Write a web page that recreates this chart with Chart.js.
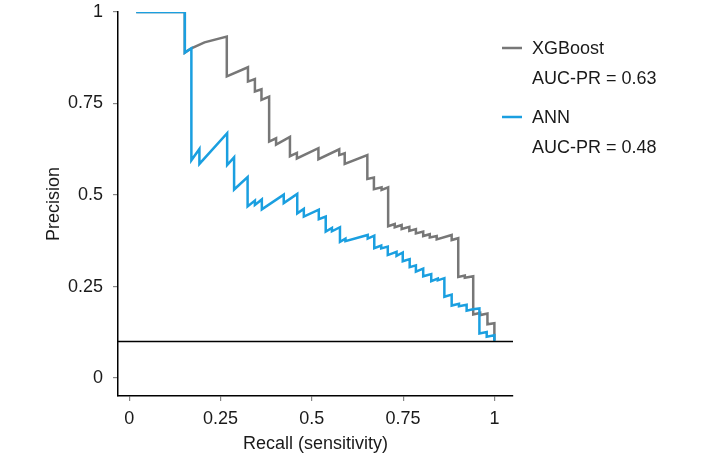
<!DOCTYPE html>
<html>
<head>
<meta charset="utf-8">
<script src="https://cdn.jsdelivr.net/npm/chart.js@4.4.1/dist/chart.umd.min.js"></script>
<style>
  body { margin: 0; background: #fff; }
  #wrap { width: 703px; height: 456px; }
</style>
</head>
<body>
<div id="wrap"><canvas id="prChart" width="703" height="456"></canvas></div>
<script>
// precision-recall curves, values
const xgbRecall = [0.019, 0.152, 0.152, 0.170, 0.206, 0.267, 0.267, 0.325, 0.325, 0.344, 0.344, 0.362, 0.362, 0.383, 0.383, 0.402,
  0.402, 0.440, 0.440, 0.459, 0.459, 0.518, 0.518, 0.575, 0.575, 0.590, 0.590, 0.652, 0.652, 0.670, 0.670, 0.691, 0.691, 0.709,
  0.709, 0.727, 0.727, 0.746, 0.746, 0.767, 0.767, 0.785, 0.785, 0.805, 0.805, 0.823, 0.823, 0.842, 0.842, 0.883, 0.883, 0.901,
  0.901, 0.919, 0.919, 0.942, 0.942, 0.961, 0.961, 0.981, 0.981, 1.0, 1.0];
const xgbPrecision = [1, 1, 0.889, 0.901, 0.917, 0.933, 0.824, 0.849, 0.810, 0.817, 0.783, 0.789, 0.760, 0.769, 0.646, 0.655,
  0.638, 0.659, 0.606, 0.615, 0.600, 0.628, 0.598, 0.625, 0.609, 0.614, 0.585, 0.609, 0.544, 0.548, 0.516, 0.521, 0.514, 0.521,
  0.415, 0.421, 0.412, 0.418, 0.407, 0.413, 0.402, 0.407, 0.395, 0.400, 0.388, 0.393, 0.384, 0.388, 0.379, 0.391, 0.377, 0.382,
  0.276, 0.280, 0.274, 0.278, 0.174, 0.178, 0.172, 0.176, 0.147, 0.150, 0.103];

const annRecall = [0.019, 0.152, 0.152, 0.170, 0.170, 0.192, 0.192, 0.268, 0.268, 0.287, 0.287, 0.324, 0.324, 0.344, 0.344,
  0.363, 0.363, 0.423, 0.423, 0.460, 0.460, 0.478, 0.478, 0.519, 0.519, 0.538, 0.538, 0.555, 0.555, 0.577, 0.577, 0.592, 0.592,
  0.653, 0.653, 0.671, 0.671, 0.690, 0.690, 0.708, 0.708, 0.732, 0.732, 0.749, 0.749, 0.768, 0.768, 0.785, 0.785, 0.805, 0.805,
  0.827, 0.827, 0.845, 0.845, 0.863, 0.863, 0.883, 0.883, 0.903, 0.903, 0.924, 0.924, 0.941, 0.959, 0.959, 0.979, 0.979, 1.0, 1.0];
const annPrecision = [1, 1, 0.889, 0.901, 0.595, 0.626, 0.585, 0.669, 0.582, 0.603, 0.515, 0.549, 0.469, 0.485, 0.473,
  0.488, 0.461, 0.501, 0.478, 0.503, 0.450, 0.462, 0.441, 0.460, 0.434, 0.441, 0.400, 0.410, 0.401, 0.412, 0.372, 0.381, 0.374,
  0.391, 0.381, 0.389, 0.355, 0.362, 0.354, 0.359, 0.336, 0.345, 0.334, 0.343, 0.319, 0.325, 0.303, 0.308, 0.291, 0.299, 0.278,
  0.284, 0.265, 0.272, 0.267, 0.273, 0.222, 0.228, 0.198, 0.203, 0.196, 0.200, 0.184, 0.188, 0.190, 0.122, 0.126, 0.113, 0.117, 0.100];

const seriesNames = ['XGBoost', 'ANN'];
const aucLabels = ['AUC-PR = 0.63', 'AUC-PR = 0.48'];
const seriesColors = ['#777777', '#1a9fe0'];
const xTicks = [0, 0.25, 0.5, 0.75, 1];
const yTicks = [0, 0.25, 0.5, 0.75, 1];
const baseline = 0.1; // no-skill line

const FONT = '"Liberation Sans", Arial, sans-serif';
const TEXT = '#1a1a1a';

function toPoints(xs, ys) {
  return xs.map((x, i) => ({ x: x, y: ys[i] }));
}

// horizontal baseline + two-line legend on the right
const extras = {
  id: 'extras',
  afterDatasetsDraw(chart) {
    const { ctx, chartArea, scales } = chart;
    const y = scales.y.getPixelForValue(baseline);
    ctx.save();
    ctx.strokeStyle = '#000';
    ctx.lineWidth = 1.5;
    ctx.beginPath();
    ctx.moveTo(chartArea.left, y);
    ctx.lineTo(chartArea.right, y);
    ctx.stroke();

    ctx.font = '18px ' + FONT;
    ctx.fillStyle = TEXT;
    ctx.textBaseline = 'middle';
    const lx = chartArea.right - 11;
    seriesNames.forEach((name, i) => {
      const top = 48 + i * 69;
      ctx.strokeStyle = seriesColors[i];
      ctx.lineWidth = 2.5;
      ctx.beginPath();
      ctx.moveTo(lx, top);
      ctx.lineTo(lx + 20, top);
      ctx.stroke();
      ctx.fillText(name, lx + 30, top + 1);
      ctx.fillText(aucLabels[i], lx + 30, top + 31);
    });
    ctx.restore();
  }
};

new Chart(document.getElementById('prChart'), {
  type: 'scatter',
  data: {
    datasets: [
      {
        label: seriesNames[0],
        data: toPoints(xgbRecall, xgbPrecision),
        showLine: true,
        borderColor: seriesColors[0],
        borderWidth: 2.5,
        pointRadius: 0,
        tension: 0,
        order: 2
      },
      {
        label: seriesNames[1],
        data: toPoints(annRecall, annPrecision),
        showLine: true,
        borderColor: seriesColors[1],
        borderWidth: 2.5,
        pointRadius: 0,
        tension: 0,
        order: 1
      }
    ]
  },
  options: {
    responsive: false,
    animation: false,
    events: [],
    layout: { padding: { left: 43, top: 12, right: 190, bottom: 0 } },
    plugins: {
      legend: { display: false },
      tooltip: { enabled: false }
    },
    scales: {
      x: {
        type: 'linear',
        min: -0.031,
        max: 1.051,
        afterBuildTicks: s => { s.ticks = xTicks.map(v => ({ value: v })); },
        afterFit: s => { s.height = 60; s.paddingLeft = 0; s.paddingRight = 0; },
        grid: { drawOnChartArea: false, drawTicks: true, tickLength: 5, color: '#888', lineWidth: 1.2 },
        border: { display: true, color: '#000', width: 1.5 },
        ticks: { color: TEXT, font: { family: FONT, size: 18 }, padding: 7, maxRotation: 0, callback: v => String(v) },
        title: { display: true, text: 'Recall (sensitivity)', color: TEXT, font: { family: FONT, size: 18 }, padding: { top: 0, bottom: 1 } }
      },
      y: {
        type: 'linear',
        min: -0.049,
        max: 1,
        afterBuildTicks: s => { s.ticks = yTicks.map(v => ({ value: v })); },
        afterFit: s => { s.width = 75; s.paddingTop = 0; s.paddingBottom = 0; },
        grid: { drawOnChartArea: false, drawTicks: true, tickLength: 5, color: '#888', lineWidth: 1.2 },
        border: { display: true, color: '#000', width: 1.5 },
        ticks: { color: TEXT, font: { family: FONT, size: 18 }, padding: 10, callback: v => String(v) },
        title: { display: true, text: 'Precision', color: TEXT, font: { family: FONT, size: 18 }, padding: { top: 0, bottom: 0 } }
      }
    }
  },
  plugins: [extras]
});
</script>
</body>
</html>
